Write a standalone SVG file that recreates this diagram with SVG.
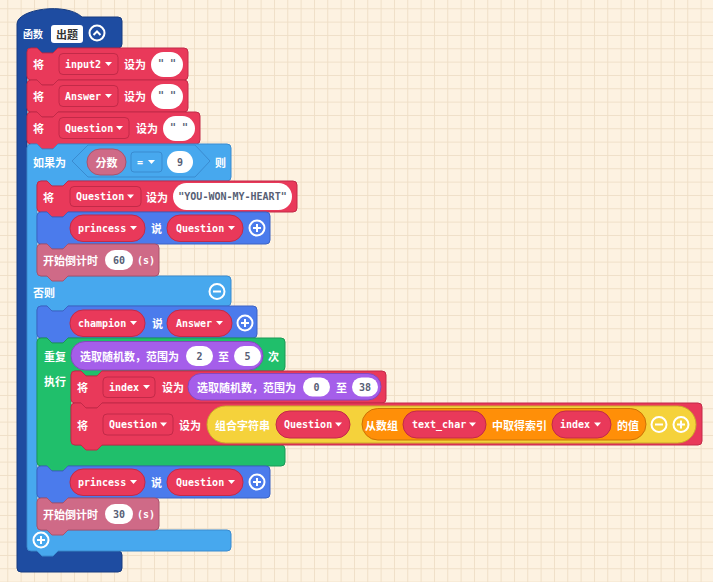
<svg xmlns="http://www.w3.org/2000/svg" xmlns:xlink="http://www.w3.org/1999/xlink" width="713" height="582" viewBox="0 0 713 582">
<style>
.t{font-family:"Noto Sans CJK SC","DejaVu Sans",sans-serif;font-size:11px;font-weight:bold;fill:#fff;dominant-baseline:central}
.m{font-family:"DejaVu Sans Mono","Liberation Mono",monospace;font-size:10px;font-weight:bold;fill:#fff;dominant-baseline:central}
.g{fill:#575e75}
.c{text-anchor:middle}
.red{fill:#e9395a;stroke:#c22a48;stroke-width:1}
.fn{fill:#1e4ca1;stroke:#163b80;stroke-width:1}
.lg{fill:#47a8ee;stroke:#3a8bd0;stroke-width:1}
.sp{fill:#4b7bec;stroke:#3c63c4;stroke-width:1}
.inf{fill:#cf6a87;stroke:#a9536d;stroke-width:1}
.lp{fill:#20bf6b;stroke:#1a9956;stroke-width:1}
.pu{fill:#a55eea;stroke:#8448bb;stroke-width:1}
.ye{fill:#f5d23b;stroke:#c9aa2a;stroke-width:1}
.or{fill:#ff8f08;stroke:#cc7206;stroke-width:1}
.wh{fill:#fff;stroke:none}
.ic{fill:none;stroke:#fff;stroke-width:2}
</style>
<defs>
<pattern id="grid" width="13.333" height="13.333" patternUnits="userSpaceOnUse" x="7.3" y="8.3">
<path d="M0,0.5 H13.333 M0.5,0 V13.333" fill="none" stroke="#efdfc7" stroke-width="1"/>
</pattern>
<path id="tri" d="M0,0 h7 l-3.5,4 z" fill="#fff"/>
<g id="plus"><circle r="7.5" class="ic"/><path d="M-4,0 H4 M0,-4 V4" class="ic"/></g>
<g id="minus"><circle r="7.5" class="ic"/><path d="M-4,0 H4" class="ic"/></g>
</defs>
<rect width="713" height="582" fill="#fdf2e1"/>
<rect width="713" height="582" fill="url(#grid)"/>
<g id="connectors"/>

<g id="function">
<path class="fn" d="M17,24 C17,9 66,2 82,17 H118 a4,4 0 0 1 4,4 V44 a4,4 0 0 1 -4,4 H58 l-5,5 h-11 l-5,-5 H31 a4,4 0 0 0 -4,4 V547 a4,4 0 0 0 4,4 H118 a4,4 0 0 1 4,4 V568 a4,4 0 0 1 -4,4 H21 a4,4 0 0 1 -4,-4 Z"/>
<text class="t" x="23" y="33" style="font-size:10px">函数</text>
<rect x="51" y="25" width="32" height="18" rx="3" fill="#fff"/>
<text class="t c" x="67" y="34" style="fill:#333">出题</text>
<circle cx="97" cy="33" r="7.5" class="ic"/>
<path d="M93.5,35 l3.5,-3.5 l3.5,3.5" class="ic"/>
</g>

<g id="set-input2">
<path class="red" d="M27,52 a4,4 0 0 1 4,-4 H37 l5,5 h11 l5,-5 H184 a4,4 0 0 1 4,4 V76 a4,4 0 0 1 -4,4 H58 l-5,5 h-11 l-5,-5 H31 a4,4 0 0 1 -4,-4 Z"/>
<text class="t" x="33" y="64">将</text>
<rect class="red" x="59" y="53.5" width="59" height="21" rx="4"/>
<text class="m" x="65" y="64">input2</text>
<use href="#tri" x="105" y="62"/>
<text class="t" x="124" y="64">设为</text>
<rect class="wh" x="151" y="52" width="32" height="25" rx="12.5"/>
<text class="m g c" x="167" y="63">" "</text>
</g>

<g id="set-answer">
<path class="red" d="M27,84 a4,4 0 0 1 4,-4 H37 l5,5 h11 l5,-5 H184 a4,4 0 0 1 4,4 V108 a4,4 0 0 1 -4,4 H58 l-5,5 h-11 l-5,-5 H31 a4,4 0 0 1 -4,-4 Z"/>
<text class="t" x="33" y="96">将</text>
<rect class="red" x="59" y="85.5" width="59" height="21" rx="4"/>
<text class="m" x="65" y="96">Answer</text>
<use href="#tri" x="105" y="94"/>
<text class="t" x="124" y="96">设为</text>
<rect class="wh" x="151" y="84" width="32" height="25" rx="12.5"/>
<text class="m g c" x="167" y="95">" "</text>
</g>

<g id="set-question">
<path class="red" d="M27,116 a4,4 0 0 1 4,-4 H37 l5,5 h11 l5,-5 H196 a4,4 0 0 1 4,4 V140 a4,4 0 0 1 -4,4 H58 l-5,5 h-11 l-5,-5 H31 a4,4 0 0 1 -4,-4 Z"/>
<text class="t" x="33" y="128">将</text>
<rect class="red" x="59" y="117.5" width="70" height="21" rx="4"/>
<text class="m" x="65" y="128">Question</text>
<use href="#tri" x="116" y="126"/>
<text class="t" x="136" y="128">设为</text>
<rect class="wh" x="163" y="116" width="32" height="25" rx="12.5"/>
<text class="m g c" x="179" y="127">" "</text>
</g>

<g id="if-else">
<path class="lg" d="M27,148 a4,4 0 0 1 4,-4 H37 l5,5 h11 l5,-5 H227 a4,4 0 0 1 4,4 V177 a4,4 0 0 1 -4,4 H68 l-5,5 h-11 l-5,-5 H41 a4,4 0 0 0 -4,4 V272 a4,4 0 0 0 4,4 H227 a4,4 0 0 1 4,4 V302 a4,4 0 0 1 -4,4 H68 l-5,5 h-11 l-5,-5 H41 a4,4 0 0 0 -4,4 V526 a4,4 0 0 0 4,4 H227 a4,4 0 0 1 4,4 V547 a4,4 0 0 1 -4,4 H58 l-5,5 h-11 l-5,-5 H31 a4,4 0 0 1 -4,-4 Z"/>
<text class="t" x="33" y="162">如果为</text>
<path class="lg" d="M72,161 L88,145 H195 L210,161 L195,177 H88 Z"/>
<rect class="inf" x="87" y="149" width="39" height="26" rx="13"/>
<text class="t c" x="106.5" y="162">分数</text>
<rect class="lg" x="131" y="152" width="31" height="20" rx="3"/>
<text class="m" x="137" y="162">=</text>
<use href="#tri" x="148" y="160"/>
<rect class="wh" x="167" y="151" width="26" height="22" rx="11"/>
<text class="m g c" x="180" y="162">9</text>
<text class="t" x="215" y="162">则</text>
<text class="t" x="33" y="291.5">否则</text>
<use href="#minus" x="217" y="291.5"/>
<use href="#plus" x="41" y="540"/>
</g>

<g id="set-question-win">
<path class="red" d="M37,185 a4,4 0 0 1 4,-4 H47 l5,5 h11 l5,-5 H293 a4,4 0 0 1 4,4 V208 a4,4 0 0 1 -4,4 H68 l-5,5 h-11 l-5,-5 H41 a4,4 0 0 1 -4,-4 Z"/>
<text class="t" x="43" y="196.5">将</text>
<rect class="red" x="70" y="186.5" width="71" height="20" rx="4"/>
<text class="m" x="76" y="196.5">Question</text>
<use href="#tri" x="127" y="194.5"/>
<text class="t" x="146" y="196.5">设为</text>
<rect class="wh" x="173" y="183" width="119" height="27" rx="13.5"/>
<text class="m g c" x="232.5" y="196.5">"YOU-WON-MY-HEART"</text>
</g>

<g id="princess-say-1">
<path class="sp" d="M37,216 a4,4 0 0 1 4,-4 H47 l5,5 h11 l5,-5 H266 a4,4 0 0 1 4,4 V240 a4,4 0 0 1 -4,4 H68 l-5,5 h-11 l-5,-5 H41 a4,4 0 0 1 -4,-4 Z"/>
<rect class="red" x="70" y="215" width="75" height="26.5" rx="13"/>
<text class="m" x="78" y="228">princess</text>
<use href="#tri" x="130" y="226"/>
<text class="t" x="151" y="228">说</text>
<rect class="red" x="167" y="215" width="76" height="26.5" rx="13"/>
<text class="m" x="176" y="228">Question</text>
<use href="#tri" x="228" y="226"/>
<use href="#plus" x="257" y="228"/>
</g>

<g id="countdown-60">
<path class="inf" d="M37,248 a4,4 0 0 1 4,-4 H47 l5,5 h11 l5,-5 H155 a4,4 0 0 1 4,4 V272 a4,4 0 0 1 -4,4 H68 l-5,5 h-11 l-5,-5 H41 a4,4 0 0 1 -4,-4 Z"/>
<text class="t" x="43" y="260">开始倒计时</text>
<rect class="wh" x="105" y="250" width="28" height="20" rx="10"/>
<text class="m g c" x="119" y="260">60</text>
<text class="m" x="137" y="260">(s)</text>
</g>

<g id="champion-say">
<path class="sp" d="M37,310 a4,4 0 0 1 4,-4 H47 l5,5 h11 l5,-5 H253 a4,4 0 0 1 4,4 V334 a4,4 0 0 1 -4,4 H68 l-5,5 h-11 l-5,-5 H41 a4,4 0 0 1 -4,-4 Z"/>
<rect class="red" x="70" y="310" width="75" height="26.5" rx="13"/>
<text class="m" x="78" y="323">champion</text>
<use href="#tri" x="130" y="321"/>
<text class="t" x="152" y="323">说</text>
<rect class="red" x="167" y="310" width="65" height="26.5" rx="13"/>
<text class="m" x="176" y="323">Answer</text>
<use href="#tri" x="216" y="321"/>
<use href="#plus" x="245" y="323"/>
</g>

<g id="repeat">
<path class="lp" d="M37,342 a4,4 0 0 1 4,-4 H47 l5,5 h11 l5,-5 H281 a4,4 0 0 1 4,4 V367 a4,4 0 0 1 -4,4 H102 l-5,5 h-11 l-5,-5 H75 a4,4 0 0 0 -4,4 V441 a4,4 0 0 0 4,4 H281 a4,4 0 0 1 4,4 V462 a4,4 0 0 1 -4,4 H68 l-5,5 h-11 l-5,-5 H41 a4,4 0 0 1 -4,-4 Z"/>
<text class="t" x="44" y="356">重复</text>
<rect class="pu" x="71" y="341.5" width="192" height="28.5" rx="14"/>
<text class="t" x="80" y="356">选取随机数，范围为</text>
<rect class="wh" x="186" y="346" width="27" height="20" rx="10"/>
<text class="m g c" x="199.5" y="356">2</text>
<text class="t" x="218" y="356">至</text>
<rect class="wh" x="234" y="346" width="27" height="20" rx="10"/>
<text class="m g c" x="247.5" y="356">5</text>
<text class="t" x="268" y="356">次</text>
<text class="t" x="44" y="381">执行</text>
</g>

<g id="set-index">
<path class="red" d="M71,375 a4,4 0 0 1 4,-4 H81 l5,5 h11 l5,-5 H382 a4,4 0 0 1 4,4 V399 a4,4 0 0 1 -4,4 H102 l-5,5 h-11 l-5,-5 H75 a4,4 0 0 1 -4,-4 Z"/>
<text class="t" x="77" y="387">将</text>
<rect class="red" x="103" y="377" width="52" height="20.5" rx="4"/>
<text class="m" x="109" y="387">index</text>
<use href="#tri" x="143" y="385"/>
<text class="t" x="162" y="387">设为</text>
<rect class="pu" x="188" y="373.5" width="193" height="26.5" rx="13"/>
<text class="t" x="197" y="387">选取随机数，范围为</text>
<rect class="wh" x="303" y="377.5" width="27" height="19" rx="9.5"/>
<text class="m g c" x="316.5" y="387">0</text>
<text class="t" x="336" y="387">至</text>
<rect class="wh" x="352" y="377.5" width="26" height="19" rx="9.5"/>
<text class="m g c" x="365" y="387">38</text>
</g>

<g id="set-question-join">
<path class="red" d="M71,407 a4,4 0 0 1 4,-4 H81 l5,5 h11 l5,-5 H698 a4,4 0 0 1 4,4 V441 a4,4 0 0 1 -4,4 H102 l-5,5 h-11 l-5,-5 H75 a4,4 0 0 1 -4,-4 Z"/>
<text class="t" x="77" y="424.5">将</text>
<rect class="red" x="103" y="414" width="70" height="21" rx="4"/>
<text class="m" x="109" y="424.5">Question</text>
<use href="#tri" x="160" y="422.5"/>
<text class="t" x="179" y="424.5">设为</text>
<rect class="ye" x="207" y="406" width="489" height="37" rx="18.5"/>
<text class="t" x="215" y="424.5">组合字符串</text>
<rect class="red" x="276" y="411" width="74" height="27" rx="13.5"/>
<text class="m" x="284" y="424.5">Question</text>
<use href="#tri" x="335" y="422.5"/>
<rect class="or" x="362" y="408.5" width="284" height="31.5" rx="15.75"/>
<text class="t" x="365" y="424.5">从数组</text>
<rect class="red" x="403" y="411" width="83" height="27" rx="13.5"/>
<text class="m" x="412" y="424.5">text_char</text>
<use href="#tri" x="469" y="422.5"/>
<text class="t" x="492" y="424.5">中取得索引</text>
<rect class="red" x="552" y="411" width="59" height="27" rx="13.5"/>
<text class="m" x="560" y="424.5">index</text>
<use href="#tri" x="594" y="422.5"/>
<text class="t" x="617" y="424.5">的值</text>
<use href="#minus" x="659" y="424.5"/>
<use href="#plus" x="681" y="424.5"/>
</g>

<g id="princess-say-2">
<path class="sp" d="M37,470 a4,4 0 0 1 4,-4 H47 l5,5 h11 l5,-5 H266 a4,4 0 0 1 4,4 V494 a4,4 0 0 1 -4,4 H68 l-5,5 h-11 l-5,-5 H41 a4,4 0 0 1 -4,-4 Z"/>
<rect class="red" x="70" y="469" width="75" height="26.5" rx="13"/>
<text class="m" x="78" y="482">princess</text>
<use href="#tri" x="130" y="480"/>
<text class="t" x="151" y="482">说</text>
<rect class="red" x="167" y="469" width="76" height="26.5" rx="13"/>
<text class="m" x="176" y="482">Question</text>
<use href="#tri" x="228" y="480"/>
<use href="#plus" x="257" y="482"/>
</g>

<g id="countdown-30">
<path class="inf" d="M37,502 a4,4 0 0 1 4,-4 H47 l5,5 h11 l5,-5 H155 a4,4 0 0 1 4,4 V526 a4,4 0 0 1 -4,4 H68 l-5,5 h-11 l-5,-5 H41 a4,4 0 0 1 -4,-4 Z"/>
<text class="t" x="43" y="514">开始倒计时</text>
<rect class="wh" x="105" y="504" width="28" height="20" rx="10"/>
<text class="m g c" x="119" y="514">30</text>
<text class="m" x="137" y="514">(s)</text>
</g>
</svg>
